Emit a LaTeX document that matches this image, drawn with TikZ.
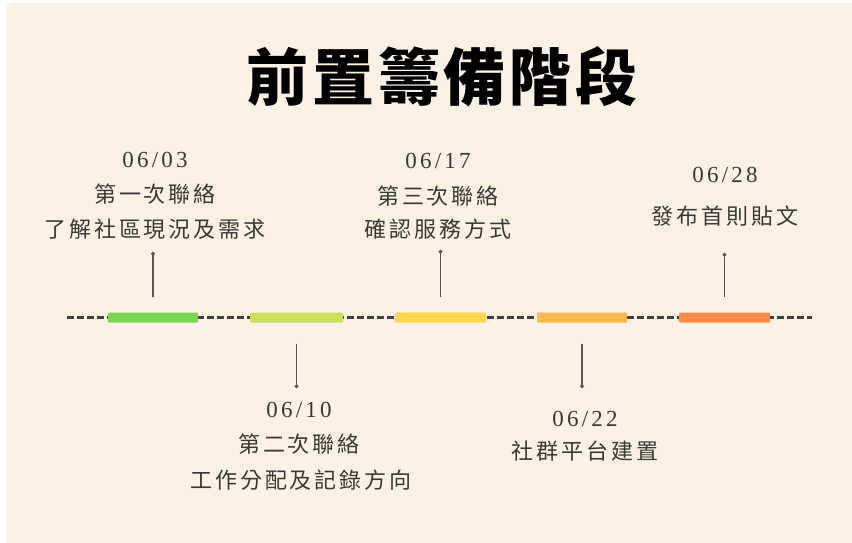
\documentclass[tikz,border=0pt]{standalone}
\usepackage{fontspec}
\setmainfont{Liberation Serif}
\newfontfamily\cjk{Noto Sans CJK TC}[LetterSpace=13]
\newfontfamily\cjktitle{Noto Sans CJK TC}[LetterSpace=6]
\newfontfamily\digitfont{Liberation Serif}[LetterSpace=14]
\usetikzlibrary{arrows.meta}
\definecolor{bg}{HTML}{FDF1E5}
\definecolor{txt}{HTML}{363A35}
\definecolor{lnc}{HTML}{555555}
\definecolor{cA}{HTML}{78D652}
\definecolor{cB}{HTML}{C8E05C}
\definecolor{cC}{HTML}{FFD64E}
\definecolor{cD}{HTML}{FFB84D}
\definecolor{cE}{HTML}{FF8A47}
\tikzset{
  datelbl/.style={font=\digitfont\fontsize{23pt}{23pt}\selectfont, text=txt, inner sep=0pt, text height=15.6pt, text depth=0pt},
  cnlbl/.style={font=\cjk\fontsize{22pt}{22pt}\selectfont, text=txt, inner sep=0pt, text height=17.5pt, text depth=1.5pt},
  titlelbl/.style={font=\cjktitle\bfseries\fontsize{62pt}{62pt}\selectfont, text=black, inner sep=0pt, text height=52pt, text depth=4pt},
  barbox/.style={minimum height=10pt, inner sep=0pt, rounded corners=1pt},
  conn/.style={draw=lnc, line width=1.3pt, -{Circle[length=3.6pt]}},
  axisline/.style={draw=black!75, line width=2.4pt, dash pattern=on 7pt off 3pt}
}
\begin{document}
\begin{tikzpicture}[x=1pt,y=-1pt]
\useasboundingbox (0,0) rectangle (852,543);
\fill[white] (0,0) rectangle (852,543);
\fill[bg] (7,3) rectangle (852,543);

% title
\node[titlelbl] (title) at (442,77) {前置籌備階段};

% axis
\coordinate (axL) at (67,317.5);
\coordinate (axR) at (812,317.5);
\draw[axisline] (axL) -- (axR);

% bars
\node[barbox, fill=cA, minimum width=90pt] (bar1) at (153,317.5) {};
\node[barbox, fill=cB, minimum width=93pt] (bar2) at (296.5,317.5) {};
\node[barbox, fill=cC, minimum width=91pt] (bar3) at (440.5,317.5) {};
\node[barbox, fill=cD, minimum width=90pt] (bar4) at (582,317.5) {};
\node[barbox, fill=cE, minimum width=91pt] (bar5) at (724.5,317.5) {};

% connector ends
\coordinate (e1) at (153,252);
\coordinate (e2) at (296.5,388);
\coordinate (e3) at (440.5,250);
\coordinate (e4) at (582,388);
\coordinate (e5) at (724.5,253);

\draw[conn, shorten <=15pt] (bar1.north) -- (e1);
\draw[conn, shorten <=21pt] (bar2.south) -- (e2);
\draw[conn, shorten <=15pt] (bar3.north) -- (e3);
\draw[conn, shorten <=21pt] (bar4.south) -- (e4);
\draw[conn, shorten <=15pt] (bar5.north) -- (e5);

% labels group 1
\node[datelbl] (d1) at (155,160) {06/03};
\node[cnlbl] (a1) at (155,194) {第一次聯絡};
\node[cnlbl] (b1) at (155,229) {了解社區現況及需求};
% group 2
\node[datelbl] (d2) at (299,410) {06/10};
\node[cnlbl] (a2) at (299,444) {第二次聯絡};
\node[cnlbl] (b2) at (301,480) {工作分配及記錄方向};
% group 3
\node[datelbl] (d3) at (438,161) {06/17};
\node[cnlbl] (a3) at (438,196) {第三次聯絡};
\node[cnlbl] (b3) at (438,229) {確認服務方式};
% group 4
\node[datelbl] (d4) at (585,419) {06/22};
\node[cnlbl] (a4) at (585,451) {社群平台建置};
% group 5
\node[datelbl] (d5) at (725,175) {06/28};
\node[cnlbl] (a5) at (725,216) {發布首則貼文};
\end{tikzpicture}
\end{document}
